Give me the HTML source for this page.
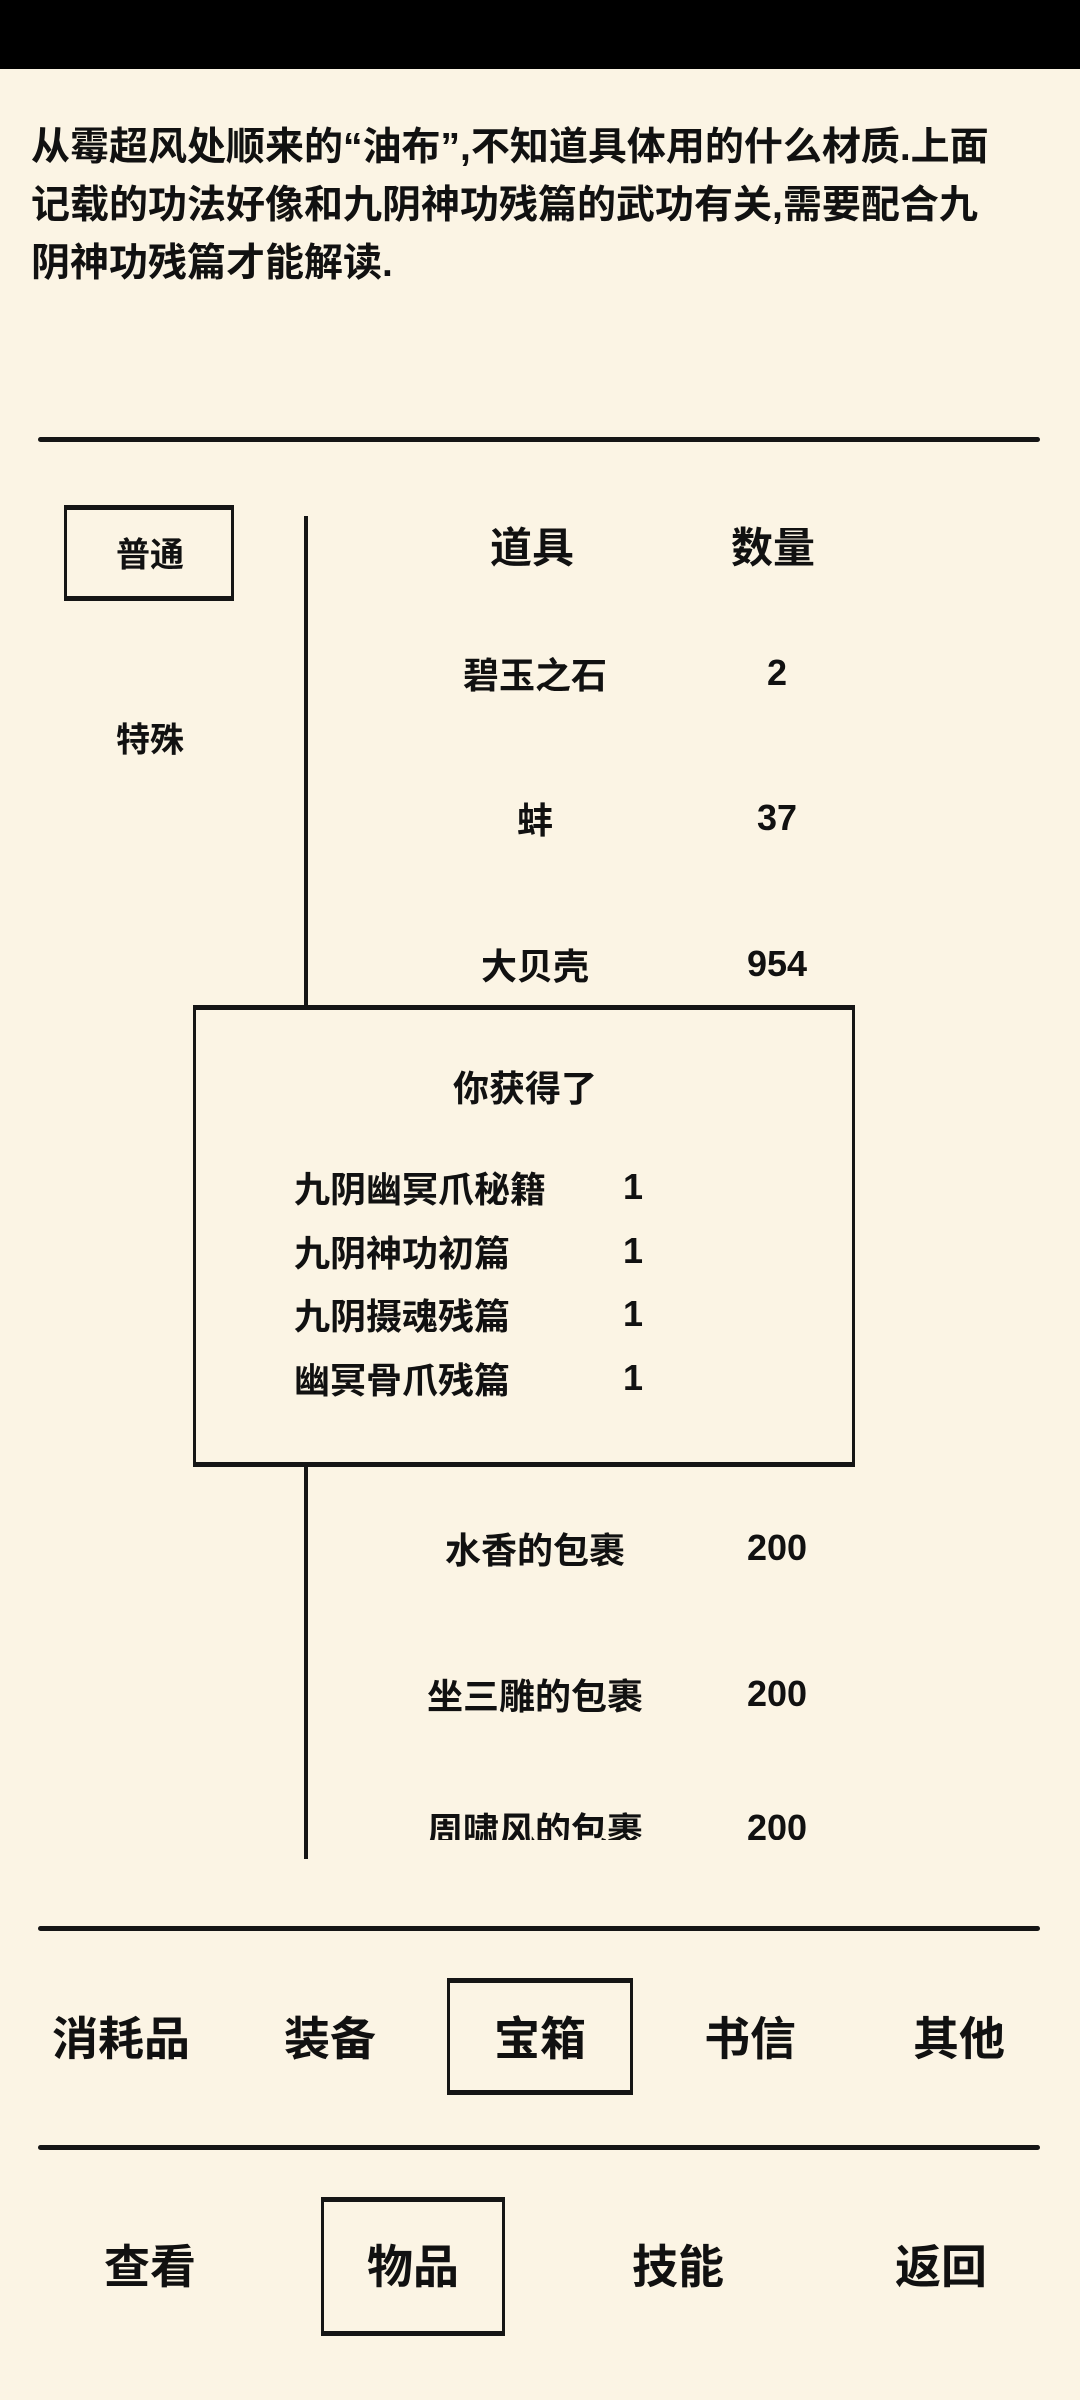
<!DOCTYPE html>
<html><head><meta charset="utf-8">
<style>
*{margin:0;padding:0;box-sizing:border-box}
body{width:1080px;height:2400px;background:#fbf4e4;position:relative;overflow:hidden;font-family:"Liberation Sans","Noto Sans CJK SC",sans-serif;color:#111;font-weight:bold}
.a{position:absolute;white-space:nowrap}
.c{transform:translate(-50%,-50%)}
.l{transform:translateY(-50%)}
.hr{position:absolute;left:38px;width:1002px;height:5px;background:#151515;border-radius:3px}
.box{position:absolute;border:3px solid #151515;border-top-width:5px;border-bottom-width:5px}
</style></head><body>
<div class="a" style="left:0;top:0;width:1080px;height:69px;background:#000"></div>
<div class="a" style="left:31px;top:119px;font-size:39px;line-height:58px;white-space:normal;width:1045px">从霉超风处顺来的“油布”,不知道具体用的什么材质.上面<br>记载的功法好像和九阴神功残篇的武功有关,需要配合九<br>阴神功残篇才能解读.</div>
<div class="hr" style="top:437px"></div>
<div class="box" style="left:64px;top:505px;width:170px;height:96px"></div>
<div class="a c" style="left:150px;top:552px;font-size:34px">普通</div>
<div class="a c" style="left:150px;top:737px;font-size:34px">特殊</div>
<div class="a" style="left:304px;top:516px;width:4px;height:1343px;background:#151515"></div>
<div class="a c" style="left:532px;top:545px;font-size:42px">道具</div>
<div class="a c" style="left:773px;top:545px;font-size:42px">数量</div>
<div class="a c" style="left:535px;top:673px;font-size:36px">碧玉之石</div>
<div class="a c" style="left:777px;top:673px;font-size:36px">2</div>
<div class="a c" style="left:535px;top:818px;font-size:36px">蚌</div>
<div class="a c" style="left:777px;top:818px;font-size:36px">37</div>
<div class="a c" style="left:535px;top:964px;font-size:36px">大贝壳</div>
<div class="a c" style="left:777px;top:964px;font-size:36px">954</div>
<div class="box" style="left:193px;top:1005px;width:662px;height:462px;background:#fbf4e4"></div>
<div class="a c" style="left:525px;top:1086px;font-size:36px">你获得了</div>
<div class="a l" style="left:294px;top:1187px;font-size:36px">九阴幽冥爪秘籍</div>
<div class="a l" style="left:294px;top:1251px;font-size:36px">九阴神功初篇</div>
<div class="a l" style="left:294px;top:1314px;font-size:36px">九阴摄魂残篇</div>
<div class="a l" style="left:294px;top:1378px;font-size:36px">幽冥骨爪残篇</div>
<div class="a l" style="left:623px;top:1187px;font-size:36px">1</div>
<div class="a l" style="left:623px;top:1251px;font-size:36px">1</div>
<div class="a l" style="left:623px;top:1314px;font-size:36px">1</div>
<div class="a l" style="left:623px;top:1378px;font-size:36px">1</div>
<div class="a c" style="left:535px;top:1548px;font-size:36px">水香的包裹</div>
<div class="a c" style="left:777px;top:1548px;font-size:36px">200</div>
<div class="a c" style="left:535px;top:1694px;font-size:36px">坐三雕的包裹</div>
<div class="a c" style="left:777px;top:1694px;font-size:36px">200</div>
<div class="a" style="left:400px;top:1800px;width:450px;height:40px;overflow:hidden">
 <div class="a c" style="left:135px;top:28px;font-size:36px">周啸风的包裹</div>
 <div class="a c" style="left:377px;top:28px;font-size:36px">200</div>
</div>
<div class="hr" style="top:1926px"></div>
<div class="box" style="left:447px;top:1978px;width:186px;height:117px"></div>
<div class="a c" style="left:121px;top:2036px;font-size:46px">消耗品</div>
<div class="a c" style="left:330px;top:2036px;font-size:46px">装备</div>
<div class="a c" style="left:540px;top:2036px;font-size:46px">宝箱</div>
<div class="a c" style="left:750px;top:2036px;font-size:46px">书信</div>
<div class="a c" style="left:959px;top:2036px;font-size:46px">其他</div>
<div class="hr" style="top:2145px"></div>
<div class="box" style="left:321px;top:2197px;width:184px;height:139px"></div>
<div class="a c" style="left:150px;top:2264px;font-size:46px">查看</div>
<div class="a c" style="left:413px;top:2264px;font-size:46px">物品</div>
<div class="a c" style="left:678px;top:2264px;font-size:46px">技能</div>
<div class="a c" style="left:941px;top:2264px;font-size:46px">返回</div>
</body></html>
